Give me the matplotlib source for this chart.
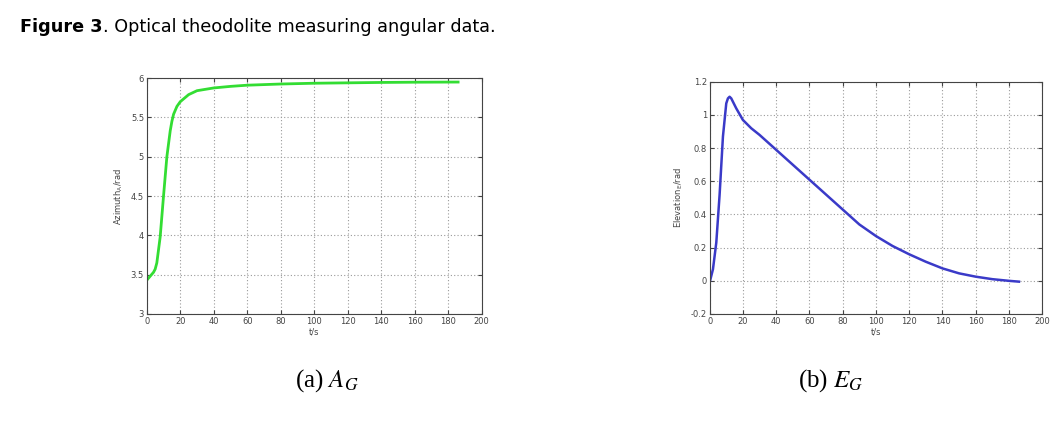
import matplotlib
matplotlib.use("Agg")
import matplotlib.pyplot as plt
import numpy as np

# Azimuth A_G (rad)
az_t = [0, 2, 4, 5, 6, 8, 10, 12, 14, 15, 16, 18, 20, 25, 30, 40, 50, 60, 80, 100, 120, 140, 160, 186]
az_val = [3.43, 3.48, 3.53, 3.57, 3.65, 3.98, 4.5, 5.0, 5.33, 5.45, 5.54, 5.64, 5.70, 5.79, 5.84, 5.875, 5.895, 5.91, 5.925, 5.935, 5.94, 5.945, 5.948, 5.95]

# Elevation E_G (rad)
el_t = [0, 1, 2, 4, 6, 8, 10, 11, 12, 13, 14, 16, 20, 25, 30, 40, 50, 60, 70, 80, 90, 100, 110, 120, 130, 140, 150, 160, 170, 180, 186]
el_val = [-0.01, 0.03, 0.07, 0.23, 0.52, 0.87, 1.07, 1.10, 1.11, 1.10, 1.08, 1.04, 0.97, 0.92, 0.88, 0.79, 0.70, 0.61, 0.52, 0.43, 0.34, 0.27, 0.21, 0.16, 0.115, 0.075, 0.045, 0.025, 0.01, 0.0, -0.005]

x_ticks = np.arange(0, 201, 20)
az_ticks = np.arange(3, 6.01, 0.5)
el_ticks = np.arange(-0.2, 1.21, 0.2)

plt.rcParams["mathtext.fontset"] = "stix"

fig = plt.figure(figsize=(10.56, 4.34), dpi=100)
fig.patch.set_facecolor("white")

tick_col = "#444444"


def style_axes(ax, xlabel, ylabel):
    ax.grid(True, linestyle=(0, (1, 2)), color="#9a9a9a", linewidth=0.8)
    ax.tick_params(labelsize=6, colors=tick_col, direction="in", length=3,
                   top=True, right=True, pad=2)
    for s in ax.spines.values():
        s.set_color("#444444")
        s.set_linewidth(0.8)
    ax.set_xlabel(xlabel, fontsize=6, color=tick_col, labelpad=1)
    ax.set_ylabel(ylabel, fontsize=6, color=tick_col, labelpad=4)


ax1 = fig.add_axes([0.139, 0.2765, 0.317, 0.5435])
ax1.plot(az_t, az_val, color="#33dd33", lw=2.0)
ax1.set_xlim(0, 200)
ax1.set_ylim(3, 6)
ax1.set_xticks(x_ticks)
ax1.set_yticks(az_ticks)
ax1.set_yticklabels(["3", "3.5", "4", "4.5", "5", "5.5", "6"])
style_axes(ax1, "t/s", r"Azimuth$_\mathregular{A}$/rad")

ax2 = fig.add_axes([0.672, 0.2765, 0.315, 0.535])
ax2.plot(el_t, el_val, color="#3a3ac8", lw=1.8)
ax2.set_xlim(0, 200)
ax2.set_ylim(-0.2, 1.2)
ax2.set_xticks(x_ticks)
ax2.set_yticks(el_ticks)
ax2.set_yticklabels(["-0.2", "0", "0.2", "0.4", "0.6", "0.8", "1", "1.2"])
style_axes(ax2, "t/s", r"Elevation$_\mathregular{E}$/rad")

# captions
fig.text(0.310, 0.122, r"(a) $A_G$", fontsize=18, family="Liberation Serif",
         ha="center", va="center")
fig.text(0.787, 0.122, r"(b) $E_G$", fontsize=18, family="Liberation Serif",
         ha="center", va="center")

# title with bold lead
t1 = fig.text(0.019, 0.937, "Figure 3", fontsize=12.7, fontweight="bold",
              ha="left", va="center")
fig.canvas.draw()
bb = t1.get_window_extent(renderer=fig.canvas.get_renderer())
fig.text(bb.x1 / fig.bbox.width, 0.937, ". Optical theodolite measuring angular data.",
         fontsize=12.7, ha="left", va="center")

fig.savefig("out.png", dpi=100)
